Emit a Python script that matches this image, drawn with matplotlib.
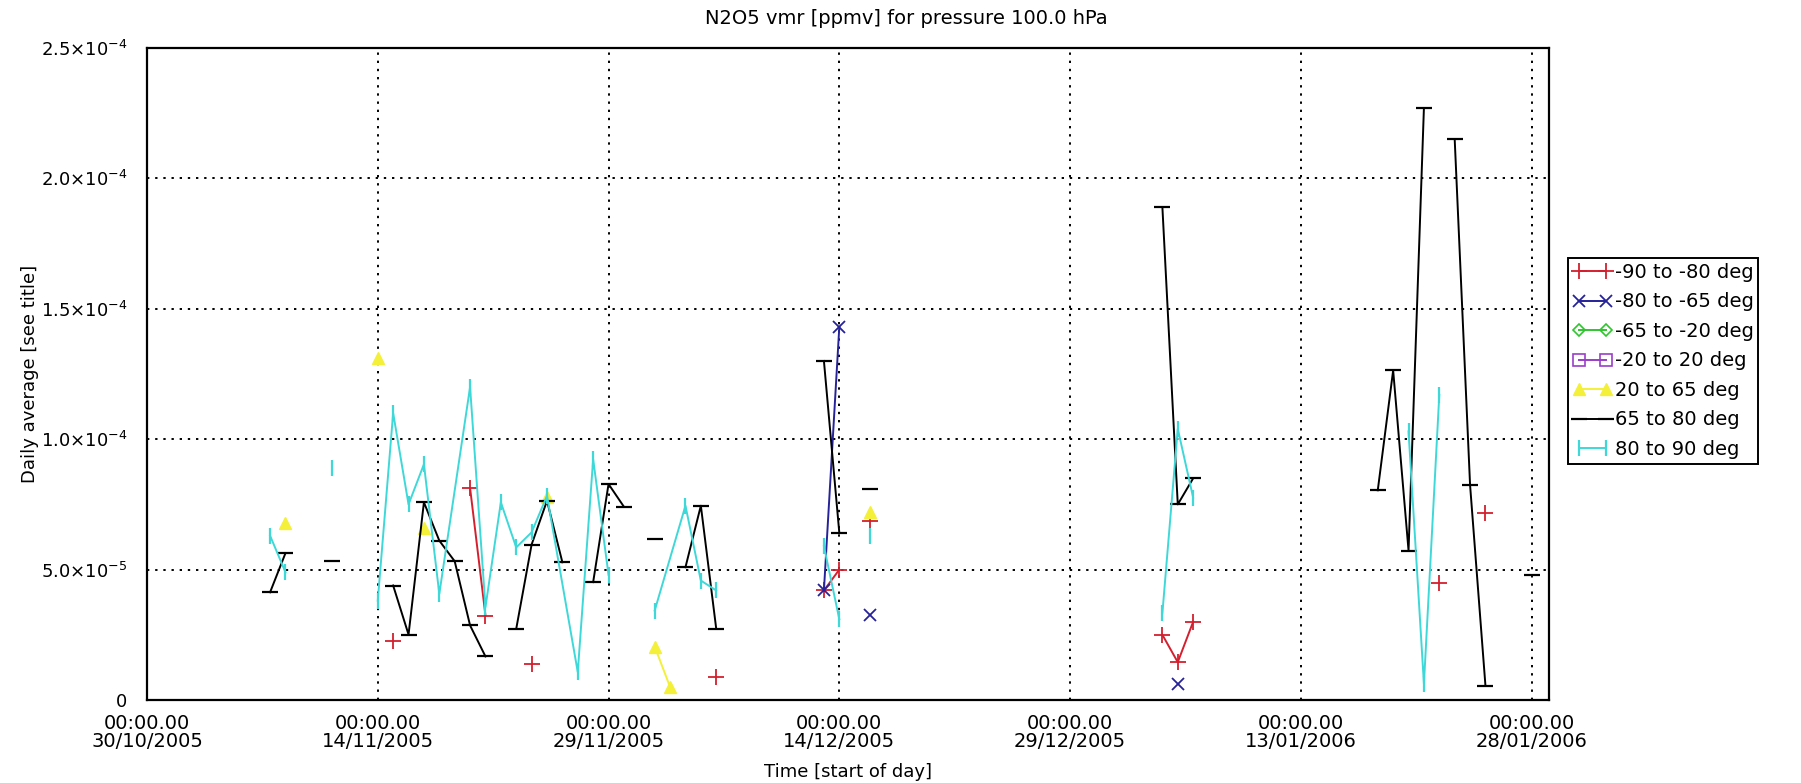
import datetime as dt
import numpy as np
import matplotlib
matplotlib.use("Agg")
import matplotlib.pyplot as plt
import matplotlib.dates as mdates
from matplotlib.ticker import FixedLocator, FixedFormatter

plt.rcParams['font.family'] = ['DejaVu Sans']
plt.rcParams['mathtext.fontset'] = 'dejavusans'

nan = np.nan
START = dt.datetime(2005, 10, 30)

# x = days after 30/10/2005 ; nan value = break in the line
red_days = [16, 17, 21, 22, 23, 25, 26, 37, 38, 44, 45, 46, 47, 48, 66, 67, 68, 69, 84, 85, 87]
red_vals = [2.28e-5, nan, 8.13e-5, 3.24e-5, nan, 1.39e-5, nan, 9.0e-6, nan, 4.2e-5, 5.0e-5, nan,
            6.86e-5, nan, 2.5e-5, 1.45e-5, 3.0e-5, nan, 4.47e-5, nan, 7.17e-5]

blue_days = [44, 45, 46, 47, 48, 67]
blue_vals = [4.2e-5, 1.43e-4, nan, 3.27e-5, nan, 6e-6]

green_days = []
green_vals = []
purple_days = []
purple_vals = []

yellow_days = [9, 10, 15, 16, 18, 19, 26, 27, 33, 34, 35, 47]
yellow_vals = [6.8e-5, nan, 1.31e-4, nan, 6.6e-5, nan, 7.8e-5, nan, 2.05e-5, 5e-6, nan, 7.2e-5]

black_days = [8, 9, 10, 12, 13, 16, 17, 18, 19, 20, 21, 22, 23, 24, 25, 26, 27, 28, 29, 30, 31, 32,
              33, 34, 35, 36, 37, 38, 44, 45, 46, 47, 48, 66, 67, 68, 69, 80, 81, 82, 83, 84, 85,
              86, 87, 88, 90]
black_vals = [4.13e-5, 5.63e-5, nan, 5.33e-5, nan, 4.39e-5, 2.51e-5, 7.58e-5, 6.11e-5, 5.32e-5,
              2.86e-5, 1.67e-5, nan, 2.73e-5, 5.96e-5, 7.64e-5, 5.28e-5, nan, 4.52e-5, 8.28e-5,
              7.41e-5, nan, 6.17e-5, nan, 5.09e-5, 7.45e-5, 2.73e-5, nan, 1.30e-4, 6.41e-5, nan,
              8.08e-5, nan, 1.89e-4, 7.5e-5, 8.5e-5, nan, 8.04e-5, 1.264e-4, 5.73e-5, 2.27e-4,
              nan, 2.15e-4, 8.24e-5, 5.4e-6, nan, 4.78e-5]

cyan_days = [8, 9, 10, 12, 13, 15, 16, 17, 18, 19, 21, 22, 23, 24, 25, 26, 28, 29, 30, 31, 33,
             35, 36, 37, 38, 44, 45, 46, 47, 48, 66, 67, 68, 69, 82, 83, 84]
cyan_vals = [6.3e-5, 4.9e-5, nan, 8.9e-5, nan, 3.81e-5, 1.10e-4, 7.5e-5, 9.04e-5, 4.07e-5,
             1.2e-4, 3.56e-5, 7.58e-5, 5.85e-5, 6.43e-5, 7.83e-5, 1.07e-5, 9.23e-5, 4.8e-5, nan,
             3.43e-5, 7.45e-5, 4.58e-5, 4.2e-5, nan, 5.9e-5, 3.1e-5, nan, 6.3e-5, nan, 3.33e-5,
             1.04e-4, 7.76e-5, nan, 1.03e-4, 6.2e-6, 1.17e-4]

y_ticks = [0, 5e-5, 1e-4, 1.5e-4, 2e-4, 2.5e-4]
y_labels = ['0', r'$5.0{\times}10^{-5}$', r'$1.0{\times}10^{-4}$', r'$1.5{\times}10^{-4}$',
            r'$2.0{\times}10^{-4}$', r'$2.5{\times}10^{-4}$']
tick_days = [0, 15, 30, 45, 60, 75, 90]


def to_dates(days):
    return [START + dt.timedelta(days=d) for d in days]


fig = plt.figure(figsize=(18.01, 7.83), dpi=100)
ax = fig.add_axes([147 / 1801, 1 - 700 / 783, (1549 - 147) / 1801, (700 - 48) / 783])

series = [
    (red_days, red_vals, '#d4202e', dict(marker='+', ms=11, mew=1.3), '-90 to -80 deg'),
    (blue_days, blue_vals, '#26239a', dict(marker='x', ms=9, mew=1.3), '-80 to -65 deg'),
    (green_days, green_vals, '#2fc52f', dict(marker='D', ms=6, mfc='none', mew=1.2), '-65 to -20 deg'),
    (purple_days, purple_vals, '#9a3ec8', dict(marker='s', ms=8, mfc='none', mew=1.2), '-20 to 20 deg'),
    (yellow_days, yellow_vals, '#f4f03a', dict(marker='^', ms=9, mew=1.0), '20 to 65 deg'),
    (black_days, black_vals, 'black', dict(marker='_', ms=12, mew=1.6), '65 to 80 deg'),
    (cyan_days, cyan_vals, '#3fd8d8', dict(marker='|', ms=11, mew=1.6), '80 to 90 deg'),
]
for days, vals, col, mk, lab in series:
    ax.plot(to_dates(days), vals, color=col, lw=1.4, label=lab, **mk)

ax.set_xlim(START, START + dt.timedelta(days=91.13))
ax.set_ylim(0, 2.5e-4)
ax.xaxis.set_major_locator(FixedLocator(mdates.date2num(to_dates(tick_days))))
ax.xaxis.set_major_formatter(mdates.DateFormatter('%H:%M.%S\n%d/%m/%Y'))
ax.yaxis.set_major_locator(FixedLocator(y_ticks))
ax.yaxis.set_major_formatter(FixedFormatter(y_labels))
ax.tick_params(length=0)
ax.tick_params(axis='x', pad=10, labelsize=14)
ax.tick_params(axis='y', pad=14, labelsize=13)
for lbl in ax.get_xticklabels():
    lbl.set_linespacing(0.95)
ax.grid(True, color='black', linestyle=(0, (1.2, 3)), linewidth=1.4)
for sp in ax.spines.values():
    sp.set_linewidth(1.6)

fig.text(0.503, 1 - 18 / 783, 'N2O5 vmr [ppmv] for pressure 100.0 hPa',
         ha='center', va='center', fontsize=14)
fig.text(30 / 1801, (1 - 374 / 783), 'Daily average [see title]', rotation=90,
         ha='center', va='center', fontsize=13)
fig.text(848 / 1801, 1 - 772 / 783, 'Time [start of day]', ha='center', va='center', fontsize=13)

leg = fig.legend(loc='upper left', bbox_to_anchor=(1568 / 1801, 1 - 258 / 783), numpoints=2,
                 fontsize=14, handlelength=2.0, handletextpad=0.15, labelspacing=0.54,
                 borderpad=0.25, borderaxespad=0, fancybox=False, framealpha=1)
leg.get_frame().set_edgecolor('black')
leg.get_frame().set_linewidth(1.4)

fig.savefig('out.png', dpi=100)
